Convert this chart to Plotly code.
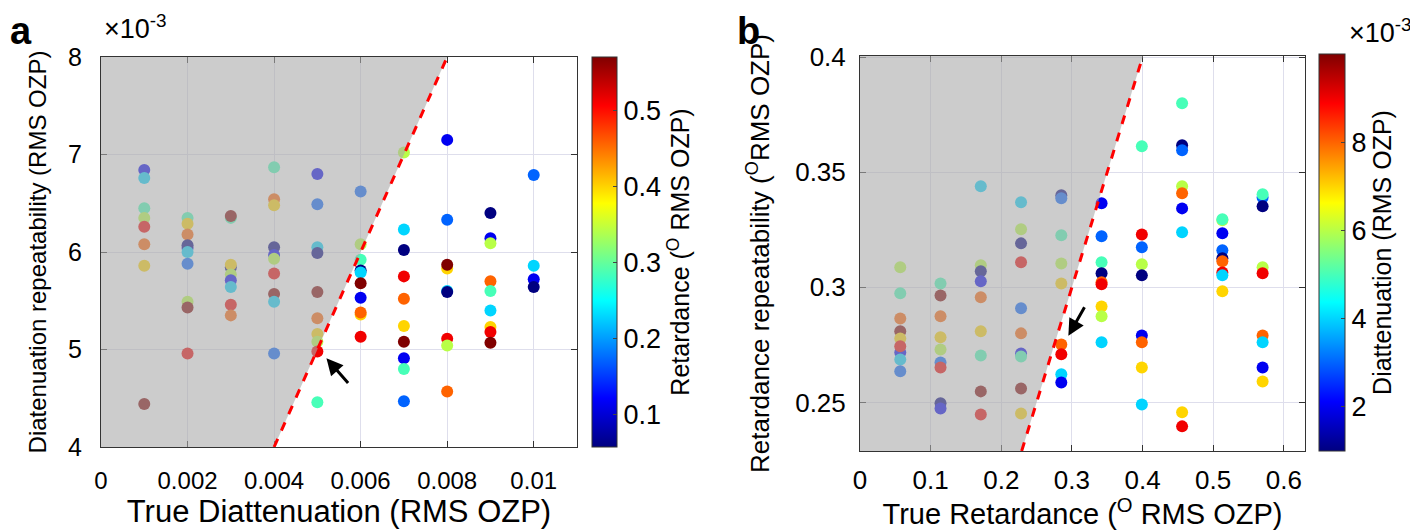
import plotly.graph_objects as go

# true values
RET = [0.057, 0.114, 0.171, 0.228, 0.285, 0.342, 0.399, 0.456, 0.513, 0.570]
DIA = [0.001, 0.002, 0.003, 0.004, 0.005, 0.006, 0.007, 0.008, 0.009, 0.010]

# panel a: diattenuation repeatability (x1e-3), per true diattenuation column,
# as (retardance index, repeatability)
a_cols = {
    0.001: [(2, 6.84), (4, 6.76), (5, 6.45), (6, 6.35), (9, 6.26), (8, 6.08), (7, 5.86), (10, 4.44)],
    0.002: [(5, 6.35), (7, 6.29), (8, 6.18), (2, 6.04), (1, 6.07), (4, 6.00), (3, 5.88), (6, 5.49),
            (10, 5.43), (9, 4.96)],
    0.003: [(5, 6.35), (10, 6.37), (1, 5.84), (7, 5.87), (6, 5.77), (2, 5.71), (4, 5.64), (9, 5.46),
            (8, 5.35)],
    0.004: [(5, 6.87), (8, 6.54), (7, 6.48), (1, 6.05), (2, 5.97), (6, 5.93), (9, 5.78), (10, 5.57),
            (4, 5.49), (3, 4.96)],
    0.005: [(2, 6.80), (3, 6.49), (4, 6.05), (1, 5.99), (10, 5.59), (8, 5.32), (7, 5.16), (6, 5.08),
            (9, 4.98), (5, 4.46)],
    0.006: [(3, 6.62), (6, 6.08), (5, 5.92), (1, 5.81), (4, 5.79), (10, 5.68), (2, 5.53), (7, 5.36),
            (8, 5.38), (9, 5.13)],
    0.007: [(6, 7.02), (4, 6.23), (1, 6.02), (9, 5.75), (8, 5.52), (7, 5.24), (10, 5.08), (2, 4.91),
            (5, 4.80), (3, 4.47)],
    0.008: [(2, 7.15), (3, 6.33), (7, 5.83), (10, 5.87), (4, 5.60), (1, 5.59), (9, 5.11), (6, 5.04),
            (8, 4.57)],
    0.009: [(1, 6.40), (2, 6.14), (6, 6.09), (8, 5.70), (5, 5.60), (4, 5.40), (7, 5.23), (9, 5.18),
            (10, 5.07)],
    0.010: [(3, 6.79), (4, 5.86), (2, 5.72), (1, 5.64)],
}

# panel b: retardance repeatability (deg), per true retardance column,
# as (diattenuation index, repeatability)
b_cols = {
    0.057: [(6, 0.3087), (5, 0.2974), (8, 0.2865), (10, 0.2809), (7, 0.2778), (2, 0.2717), (9, 0.2744),
            (4, 0.2687), (3, 0.2635)],
    0.114: [(5, 0.3017), (10, 0.2965), (8, 0.2874), (7, 0.2783), (6, 0.2730), (3, 0.2674), (9, 0.2652),
            (1, 0.2496), (2, 0.2474)],
    0.171: [(4, 0.3439), (6, 0.3096), (1, 0.3070), (2, 0.3026), (8, 0.2957), (7, 0.2809), (5, 0.2704),
            (10, 0.2548), (9, 0.2448)],
    0.228: [(4, 0.3370), (6, 0.3252), (1, 0.3191), (9, 0.3109), (3, 0.2909), (8, 0.2800), (2, 0.2713),
            (5, 0.2700), (10, 0.2561), (7, 0.2452)],
    0.285: [(1, 0.3400), (3, 0.3387), (5, 0.3226), (6, 0.3104), (7, 0.3017), (8, 0.2752), (9, 0.2709),
            (4, 0.2622), (2, 0.2587)],
    0.342: [(2, 0.3365), (3, 0.3222), (5, 0.3109), (1, 0.3061), (8, 0.3022), (9, 0.3013), (7, 0.2917),
            (6, 0.2874), (4, 0.2761)],
    0.399: [(5, 0.3613), (9, 0.3230), (3, 0.3174), (6, 0.3100), (1, 0.3052), (2, 0.2791), (8, 0.2761),
            (7, 0.2652), (4, 0.2491)],
    0.456: [(5, 0.3800), (1, 0.3617), (3, 0.3596), (6, 0.3439), (8, 0.3409), (2, 0.3343), (4, 0.3239),
            (7, 0.2457), (9, 0.2396)],
    0.513: [(6, 0.3291), (5, 0.3296), (2, 0.3235), (3, 0.3161), (1, 0.3126), (8, 0.3113), (9, 0.3065),
            (4, 0.3052), (7, 0.2983)],
    0.570: [(3, 0.3390), (5, 0.3404), (1, 0.3352), (6, 0.3087), (9, 0.3061), (8, 0.2791), (4, 0.2761),
            (2, 0.2652), (7, 0.2591)],
}

# matlab jet
JET = [[0.0, 'rgb(0,0,128)'], [0.125, 'rgb(0,0,255)'], [0.375, 'rgb(0,255,255)'],
       [0.625, 'rgb(255,255,0)'], [0.875, 'rgb(255,0,0)'], [1.0, 'rgb(128,0,0)']]

FONT = 'Liberation Sans, Arial, sans-serif'
GRID = 'rgb(222,222,236)'
SHADE = 'rgba(170,170,170,0.6)'

# the page body has an 8px margin, so the figure is a bit smaller and shifted
OFF = 8
W, H = 1418 - OFF, 530 - OFF


def px(x):
    return (x - OFF) / W


def py(y):
    return 1 - (y - OFF) / H


def flatten(cols, color_vals, scale=1.0):
    xs, ys, cs = [], [], []
    for x, pts in cols.items():
        for idx, y in pts:
            xs.append(x)
            ys.append(y * scale)
            cs.append(color_vals[idx - 1])
    return xs, ys, cs


ax_x, ax_y, ax_c = flatten(a_cols, RET, 1e-3)
bx_x, bx_y, bx_c = flatten(b_cols, DIA)

fig = go.Figure()
fig.add_trace(go.Scatter(x=ax_x, y=ax_y, mode='markers', xaxis='x', yaxis='y',
                         marker=dict(size=12, color=ax_c, coloraxis='coloraxis', line=dict(width=0))))
fig.add_trace(go.Scatter(x=bx_x, y=bx_y, mode='markers', xaxis='x2', yaxis='y2',
                         marker=dict(size=12, color=bx_c, coloraxis='coloraxis2', line=dict(width=0))))

a_xr = [0, 0.011]
a_yr = [0.004, 0.008]
b_xr = [0, 0.63]
b_yr = [0.2289, 0.4005]

# shaded region (repeatability above true value) and the y = x line
fig.add_shape(type='path', xref='x', yref='y', layer='above', line=dict(width=0), fillcolor=SHADE,
              path=f'M 0 {a_yr[0]} L {a_yr[0]} {a_yr[0]} L {a_yr[1]} {a_yr[1]} L 0 {a_yr[1]} Z')
fig.add_shape(type='line', xref='x', yref='y', layer='above', x0=a_yr[0], y0=a_yr[0], x1=a_yr[1], y1=a_yr[1],
              line=dict(color='red', width=3, dash='dash'))
fig.add_shape(type='path', xref='x2', yref='y2', layer='above', line=dict(width=0), fillcolor=SHADE,
              path=f'M 0 {b_yr[0]} L {b_yr[0]} {b_yr[0]} L {b_yr[1]} {b_yr[1]} L 0 {b_yr[1]} Z')
fig.add_shape(type='line', xref='x2', yref='y2', layer='above', x0=b_yr[0], y0=b_yr[0], x1=b_yr[1], y1=b_yr[1],
              line=dict(color='red', width=3, dash='dash'))

axis_common = dict(showgrid=True, gridcolor=GRID, zeroline=False, showline=True, linecolor='#333333',
                   linewidth=1, mirror='ticks', ticks='inside', ticklen=6, tickcolor='#333333',
                   automargin=False)

fig.update_layout(
    width=W, height=H, margin=dict(l=0, r=0, t=0, b=0, autoexpand=False),
    plot_bgcolor='white', paper_bgcolor='white', showlegend=False,
    font=dict(family=FONT, color='black'),
    xaxis=dict(axis_common, domain=[px(101), px(577)], range=a_xr, anchor='y',
               tickvals=[0, 0.002, 0.004, 0.006, 0.008, 0.01],
               ticktext=['0', '0.002', '0.004', '0.006', '0.008', '0.01'],
               tickfont=dict(size=24), ticklabelstandoff=12,
               title=dict(text='True Diattenuation (RMS OZP)', font=dict(size=31), standoff=2)),
    yaxis=dict(axis_common, domain=[py(447), py(57)], range=a_yr, anchor='x',
               tickvals=[0.004, 0.005, 0.006, 0.007, 0.008], ticktext=['4', '5', '6', '7', '8'],
               tickfont=dict(size=25), ticklabelstandoff=13,
               title=dict(text='Diatenuation repeatability (RMS OZP)', font=dict(size=24), standoff=14)),
    xaxis2=dict(axis_common, domain=[px(860), px(1305)], range=b_xr, anchor='y2',
                tickvals=[0, 0.1, 0.2, 0.3, 0.4, 0.5, 0.6],
                ticktext=['0', '0.1', '0.2', '0.3', '0.4', '0.5', '0.6'],
                tickfont=dict(size=26), ticklabelstandoff=6,
                title=dict(text='True Retardance (<sup>O</sup> RMS OZP)', font=dict(size=29), standoff=1)),
    yaxis2=dict(axis_common, domain=[py(451), py(56)], range=b_yr, anchor='x2',
                tickvals=[0.25, 0.3, 0.35, 0.4], ticktext=['0.25', '0.3', '0.35', '0.4'],
                tickfont=dict(size=26), ticklabelstandoff=8,
                title=dict(text='Retardance repeatability (<sup>O</sup>RMS OZP)', font=dict(size=26), standoff=18)),
    coloraxis=dict(colorscale=JET, cmin=RET[0], cmax=RET[-1],
                   colorbar=dict(x=px(592), xanchor='left', y=py(252), yanchor='middle', len=390 / H,
                                 lenmode='fraction', thickness=25, thicknessmode='pixels', xpad=0, ypad=0,
                                 outlinecolor='#333333', outlinewidth=1, ticks='inside', ticklen=4,
                                 tickvals=[0.1, 0.2, 0.3, 0.4, 0.5], tickfont=dict(size=27),
                                 title=dict(text='Retardance (<sup>O</sup> RMS OZP)', side='right',
                                            font=dict(size=25)))),
    coloraxis2=dict(colorscale=JET, cmin=DIA[0], cmax=DIA[-1],
                    colorbar=dict(x=px(1319), xanchor='left', y=py(252.5), yanchor='middle', len=397 / H,
                                  lenmode='fraction', thickness=26, thicknessmode='pixels', xpad=0, ypad=0,
                                  outlinecolor='#333333', outlinewidth=1, ticks='inside', ticklen=4,
                                  tickvals=[0.002, 0.004, 0.006, 0.008], ticktext=['2', '4', '6', '8'],
                                  tickfont=dict(size=27),
                                  title=dict(text='Diattenuation (RMS OZP)', side='right',
                                             font=dict(size=25)))),
)

# arrows pointing at the crossing points
fig.add_annotation(x=0.00521, y=0.00491, ax=0.00574, ay=0.00464, xref='x', yref='y', axref='x', ayref='y',
                   text='', showarrow=True, arrowhead=2, arrowsize=1.1, arrowwidth=3, arrowcolor='black')
fig.add_annotation(x=0.295, y=0.279, ax=0.319, ay=0.292, xref='x2', yref='y2', axref='x2', ayref='y2',
                   text='', showarrow=True, arrowhead=2, arrowsize=1.1, arrowwidth=3, arrowcolor='black')

# panel letters and exponent labels
fig.add_annotation(x=0, y=1, xref='paper', yref='paper', xanchor='left', yanchor='top',
                   showarrow=False, text='<b>a</b>', font=dict(size=38))
fig.add_annotation(x=px(735), y=1, xref='paper', yref='paper', xanchor='left', yanchor='top',
                   showarrow=False, text='<b>b</b>', font=dict(size=38))
fig.add_annotation(x=px(102), y=1, xref='paper', yref='paper', xanchor='left', yanchor='top',
                   showarrow=False, text='\u00d710<sup>-3</sup>', font=dict(size=27))
fig.add_annotation(x=px(1347), y=py(12), xref='paper', yref='paper', xanchor='left', yanchor='top',
                   showarrow=False, text='\u00d710<sup>-3</sup>', font=dict(size=27))

fig.write_html('out.html')
